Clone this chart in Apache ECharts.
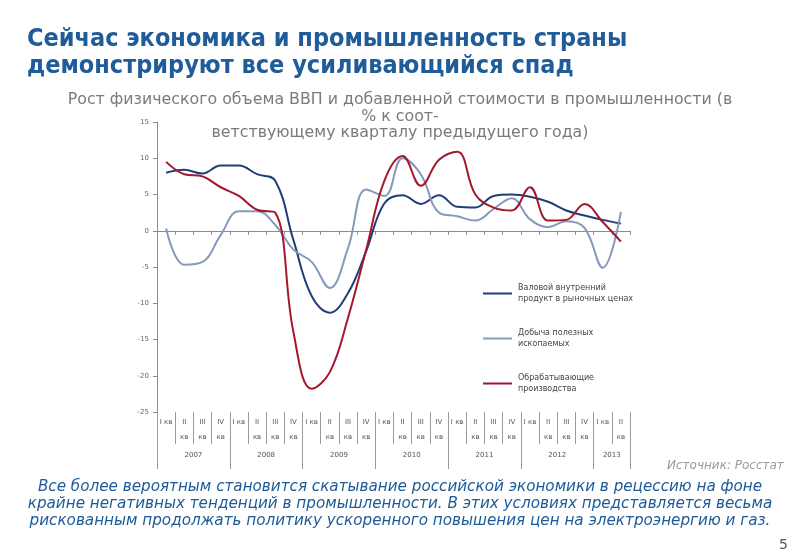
<!DOCTYPE html>
<html><head><meta charset="utf-8">
<script src="https://cdn.jsdelivr.net/npm/echarts@6/dist/echarts.min.js"></script>
<style>html,body{margin:0;padding:0;background:#fff}#c{width:800px;height:553px}</style>
</head><body><div id="c"></div>
<script>
const years = ['2007','2008','2009','2010','2011','2012','2013'];
const quarterNames = ['I','II','III','IV'];
const quarterCount = 26;
const gdp = [8.0, 8.4, 7.9, 9.0, 9.0, 7.8, 6.9, -1.3, -9.0, -11.3, -8.6, -2.8, 3.8, 4.9, 3.7, 4.9, 3.3, 3.2, 4.8, 5.0, 4.7, 4.0, 2.8, 2.1, 1.5, 1.0];
const mining = [0.3, -4.7, -4.3, -0.6, 2.7, 2.7, 0.8, -2.6, -4.3, -7.9, -2.4, 5.7, 4.8, 10.0, 7.8, 2.5, 2.0, 1.4, 3.0, 4.5, 1.6, 0.5, 1.3, 0.4, -5.1, 2.6];
const manufacturing = [9.5, 7.8, 7.5, 6.0, 4.8, 2.9, 2.5, -14.0, -21.8, -19.5, -12.0, -2.6, 6.9, 10.3, 6.2, 9.8, 10.9, 5.0, 3.2, 2.8, 6.0, 1.4, 1.5, 3.7, 1.2, -1.5];
const seriesNames = ['Валовой внутренний\nпродукт в рыночных ценах', 'Добыча полезных\nископаемых', 'Обрабатывающие\nпроизводства'];
const seriesColors = ['#1f3d78', '#8499bb', '#a3182f'];
const yMin = -25, yMax = 15, yStep = 5;
const heading = 'Сейчас экономика и промышленность страны\nдемонстрируют все усиливающийся спад';
const subtitle = 'Рост физического объема ВВП и добавленной стоимости в промышленности (в\n% к соот-\nветствующему кварталу предыдущего года)';
const footer = 'Все более вероятным становится скатывание российской экономики в рецессию на фоне\nкрайне негативных тенденций в промышленности. В этих условиях представляется весьма\nрискованным продолжать политику ускоренного повышения цен на электроэнергию и газ.';
const sourceText = 'Источник: Росстат';
const pageNumber = '5';

const categories = [];
for (let i = 0; i < quarterCount; i++) categories.push(years[Math.floor(i / 4)] + ' ' + quarterNames[i % 4] + ' кв');

const chart = echarts.init(document.getElementById('c'), null, {renderer: 'canvas'});
const axisGray = '#8c8c8c';
const option = {
  backgroundColor: '#ffffff',
  animation: false,
  title: [
    {text: heading, left: 22, top: 21, textStyle: {fontFamily: 'DejaVu Sans Condensed', fontWeight: 'bold', fontSize: 25, color: '#1f5c99', lineHeight: 27}},
    {text: subtitle, left: 'center', top: 87, textStyle: {fontFamily: 'DejaVu Sans', fontWeight: 'normal', fontSize: 15.8, color: '#7a7a7a', lineHeight: 16.5}},
    {text: footer, left: 'center', top: 474, textStyle: {fontFamily: 'DejaVu Sans', fontStyle: 'italic', fontWeight: 'normal', fontSize: 15.2, color: '#1d5a98', lineHeight: 17}},
    {text: sourceText, left: 662, top: 455, textStyle: {fontFamily: 'DejaVu Sans', fontStyle: 'italic', fontWeight: 'normal', fontSize: 12, color: '#9a9a9a'}},
    {text: pageNumber, left: 774, top: 533, textStyle: {fontFamily: 'DejaVu Sans', fontWeight: 'normal', fontSize: 14, color: '#555'}}
  ],
  grid: {left: 157, right: 170, top: 122, bottom: 141, containLabel: false},
  legend: {
    data: seriesNames, orient: 'vertical', left: 478, top: 272, itemGap: 12,
    icon: 'rect', itemWidth: 29, itemHeight: 2,
    textStyle: {fontFamily: 'DejaVu Sans', fontSize: 8, color: '#444', lineHeight: 11, padding: [11, 0, 0, 1]}
  },
  xAxis: [
    {type: 'category', data: categories, position: 'bottom', boundaryGap: true,
     axisLine: {show: true, onZero: true, lineStyle: {color: axisGray, width: 1}},
     axisTick: {show: true, length: 4, interval: 0, lineStyle: {color: axisGray}},
     axisLabel: {show: false}, splitLine: {show: false}},
    {type: 'category', data: categories, position: 'bottom', boundaryGap: true,
     axisLine: {show: false, onZero: false},
     axisTick: {show: true, length: 32, interval: 0, lineStyle: {color: '#9a9a9a'}},
     axisLabel: {show: true, interval: 0, margin: 3, fontFamily: 'DejaVu Sans', fontSize: 7, color: '#555', lineHeight: 15,
       formatter: (v, idx) => { const q = idx % 4; return q === 0 ? quarterNames[0] + ' кв' : quarterNames[q] + '\nкв'; }},
     splitLine: {show: false}},
    {type: 'category', data: categories, position: 'bottom', boundaryGap: true,
     axisLine: {show: false, onZero: false},
     axisTick: {show: true, length: 57, interval: (idx) => idx % 4 === 0, lineStyle: {color: '#9a9a9a'}},
     axisLabel: {show: true, margin: 40, fontFamily: 'DejaVu Sans', fontSize: 7, color: '#555',
       interval: (idx) => (idx % 4 === 1 && idx < 24) || idx === 24,
       padding: [0, 0, 0, 18.2],
       formatter: (v, idx) => years[Math.floor(idx / 4)]},
     splitLine: {show: false}}
  ],
  yAxis: {type: 'value', min: yMin, max: yMax, interval: yStep,
    axisLine: {show: true, lineStyle: {color: axisGray}},
    axisTick: {show: true, length: 4, lineStyle: {color: axisGray}},
    axisLabel: {fontFamily: 'DejaVu Sans', fontSize: 7, color: '#666', margin: 8},
    splitLine: {show: false}},
  series: [
    {name: seriesNames[0], type: 'line', data: gdp, smooth: 0.4, symbol: 'none', xAxisIndex: 0, color: seriesColors[0], lineStyle: {width: 2, color: seriesColors[0]}},
    {name: seriesNames[1], type: 'line', data: mining, smooth: 0.4, symbol: 'none', xAxisIndex: 0, color: seriesColors[1], lineStyle: {width: 2, color: seriesColors[1]}},
    {name: seriesNames[2], type: 'line', data: manufacturing, smooth: 0.4, symbol: 'none', xAxisIndex: 0, color: seriesColors[2], lineStyle: {width: 2, color: seriesColors[2]}}
  ]
};
chart.setOption(option);
</script></body></html>
